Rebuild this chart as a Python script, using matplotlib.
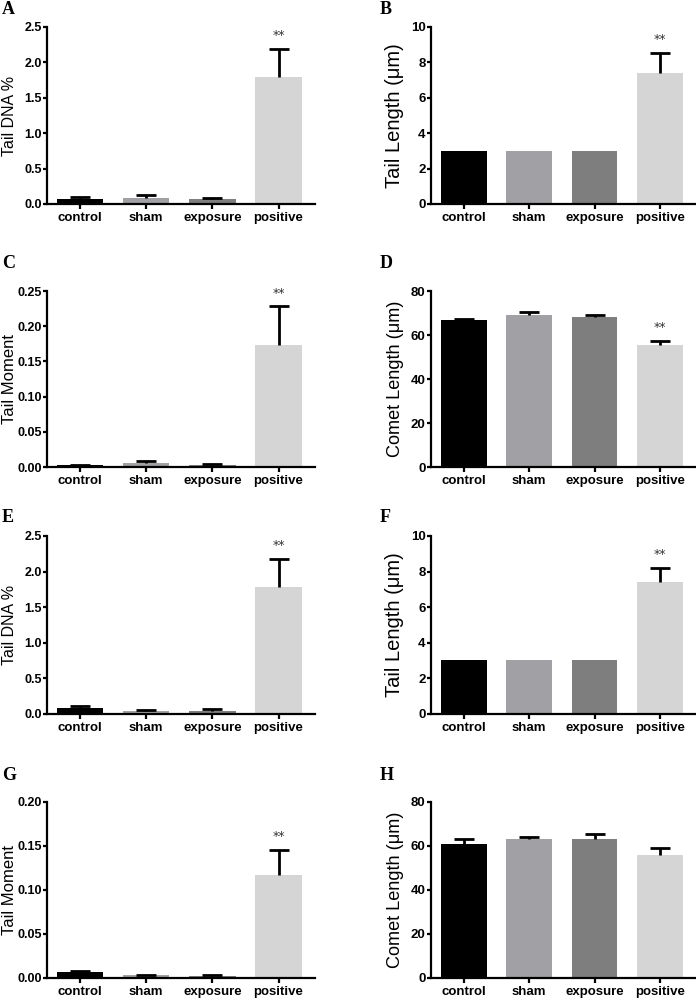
import matplotlib
matplotlib.use("Agg")
import matplotlib.pyplot as plt
from matplotlib.ticker import MultipleLocator

categories = ["control", "sham", "exposure", "positive"]
bar_colors = ["#000000", "#a1a1a5", "#7e7e7e", "#d5d5d5"]

# means and upper error (SE) per panel
A_mean = [0.066, 0.090, 0.066, 1.80]
A_err = [0.034, 0.037, 0.024, 0.39]
B_mean = [3.02, 3.02, 3.02, 7.38]
B_err = [0.0, 0.0, 0.0, 1.16]
C_mean = [0.0024, 0.0060, 0.0030, 0.174]
C_err = [0.0009, 0.0025, 0.0010, 0.054]
D_mean = [66.9, 69.0, 68.4, 55.4]
D_err = [0.5, 1.3, 0.8, 2.0]
E_mean = [0.080, 0.037, 0.042, 1.79]
E_err = [0.027, 0.023, 0.023, 0.39]
F_mean = [3.04, 3.04, 3.04, 7.40]
F_err = [0.0, 0.0, 0.0, 0.80]
G_mean = [0.0064, 0.0034, 0.0023, 0.117]
G_err = [0.0012, 0.0004, 0.0007, 0.028]
H_mean = [60.9, 63.0, 63.3, 56.1]
H_err = [2.1, 1.1, 2.0, 2.8]

panels = [
    ("A", "Tail DNA %", A_mean, A_err, 2.5, 0.5, "%.1f", True),
    ("B", "Tail Length (\u03bcm)", B_mean, B_err, 10, 2, "%d", True),
    ("C", "Tail Moment", C_mean, C_err, 0.25, 0.05, "%.2f", True),
    ("D", "Comet Length (\u03bcm)", D_mean, D_err, 80, 20, "%d", True),
    ("E", "Tail DNA %", E_mean, E_err, 2.5, 0.5, "%.1f", True),
    ("F", "Tail Length (\u03bcm)", F_mean, F_err, 10, 2, "%d", True),
    ("G", "Tail Moment", G_mean, G_err, 0.20, 0.05, "%.2f", True),
    ("H", "Comet Length (\u03bcm)", H_mean, H_err, 80, 20, "%d", False),
]

label_sizes = {"Tail DNA %": 11.5, "Tail Moment": 12,
               "Tail Length (\u03bcm)": 14.5, "Comet Length (\u03bcm)": 13.1}

W, H = 696, 1000
fig = plt.figure(figsize=(W / 100, H / 100), dpi=100)

# pixel boxes: (left, right, top, bottom)
rows = [(27, 204), (291, 467), (536, 714), (802, 978)]
cols = [(47, 315), (431, 696)]
letter_pos = [(2, 14), (380, 14), (2, 268), (380, 268), (2, 522), (380, 522), (2, 780), (380, 780)]
ylabel_baseline_x = [14, 400]
ytick_size = [9, 9.5]

for i, (letter, ylab, mean, err, ymax, ystep, fmt, star) in enumerate(panels):
    r, c = divmod(i, 2)
    x0, x1 = cols[c]
    t, b = rows[r]
    ax = fig.add_axes([x0 / W, 1 - b / H, (x1 - x0) / W, (b - t) / H])
    xs = list(range(len(categories)))
    ax.bar(xs, mean, width=0.7, color=bar_colors, zorder=2)
    ex = [x for x, e in zip(xs, err) if e > 0]
    ey = [m for m, e in zip(mean, err) if e > 0]
    ee = [e for e in err if e > 0]
    if ex:
        ax.errorbar(ex, ey, yerr=[[0] * len(ee), ee], fmt="none", ecolor="black",
                    elinewidth=2.0, capsize=7, capthick=2.0, zorder=3)
    if star:
        top = mean[3] + err[3]
        ax.annotate("**", xy=(3, top), xytext=(0, 5), textcoords="offset points",
                    ha="center", va="bottom", fontsize=9, color="#333333")
    ax.set_xlim(-0.5, 3.55)
    ax.set_ylim(0, ymax)
    ax.yaxis.set_major_locator(MultipleLocator(ystep))
    ax.set_yticklabels([fmt % v for v in ax.get_yticks()])
    ax.set_xticks(xs)
    ax.set_xticklabels(categories)
    for s in ("top", "right"):
        ax.spines[s].set_visible(False)
    for s in ("left", "bottom"):
        ax.spines[s].set_linewidth(1.6)
    ax.tick_params(axis="y", direction="out", length=3, width=1.6, pad=0.8)
    ax.tick_params(axis="x", direction="out", length=3.5, width=1.6, pad=2)
    for lab in ax.get_xticklabels():
        lab.set_fontfamily("Liberation Sans")
        lab.set_fontweight("bold")
        lab.set_fontsize(9.5)
    for lab in ax.get_yticklabels():
        lab.set_fontfamily("Liberation Sans")
        lab.set_fontweight("bold")
        lab.set_fontsize(ytick_size[c])
    fig.text(ylabel_baseline_x[c] / W, 1 - ((t + b) / 2) / H, ylab, rotation=90,
             rotation_mode="anchor", ha="center", va="baseline",
             fontsize=label_sizes[ylab], family="Liberation Sans")
    lx, ly = letter_pos[i]
    fig.text(lx / W, 1 - ly / H, letter, ha="left", va="baseline",
             fontsize=13, fontweight="bold", family="Liberation Serif")

# remove the lower caps of the one-sided error bars
for ax in fig.axes:
    bars = {round(p.get_x() + p.get_width() / 2, 3): p.get_height() for p in ax.patches}
    for cap in [ln for ln in ax.lines if ln.get_marker() == "_"]:
        if all(abs(y - bars.get(round(x, 3), -1)) < 1e-12
               for x, y in zip(cap.get_xdata(), cap.get_ydata())):
            cap.set_visible(False)

fig.savefig("out.png", dpi=100)
